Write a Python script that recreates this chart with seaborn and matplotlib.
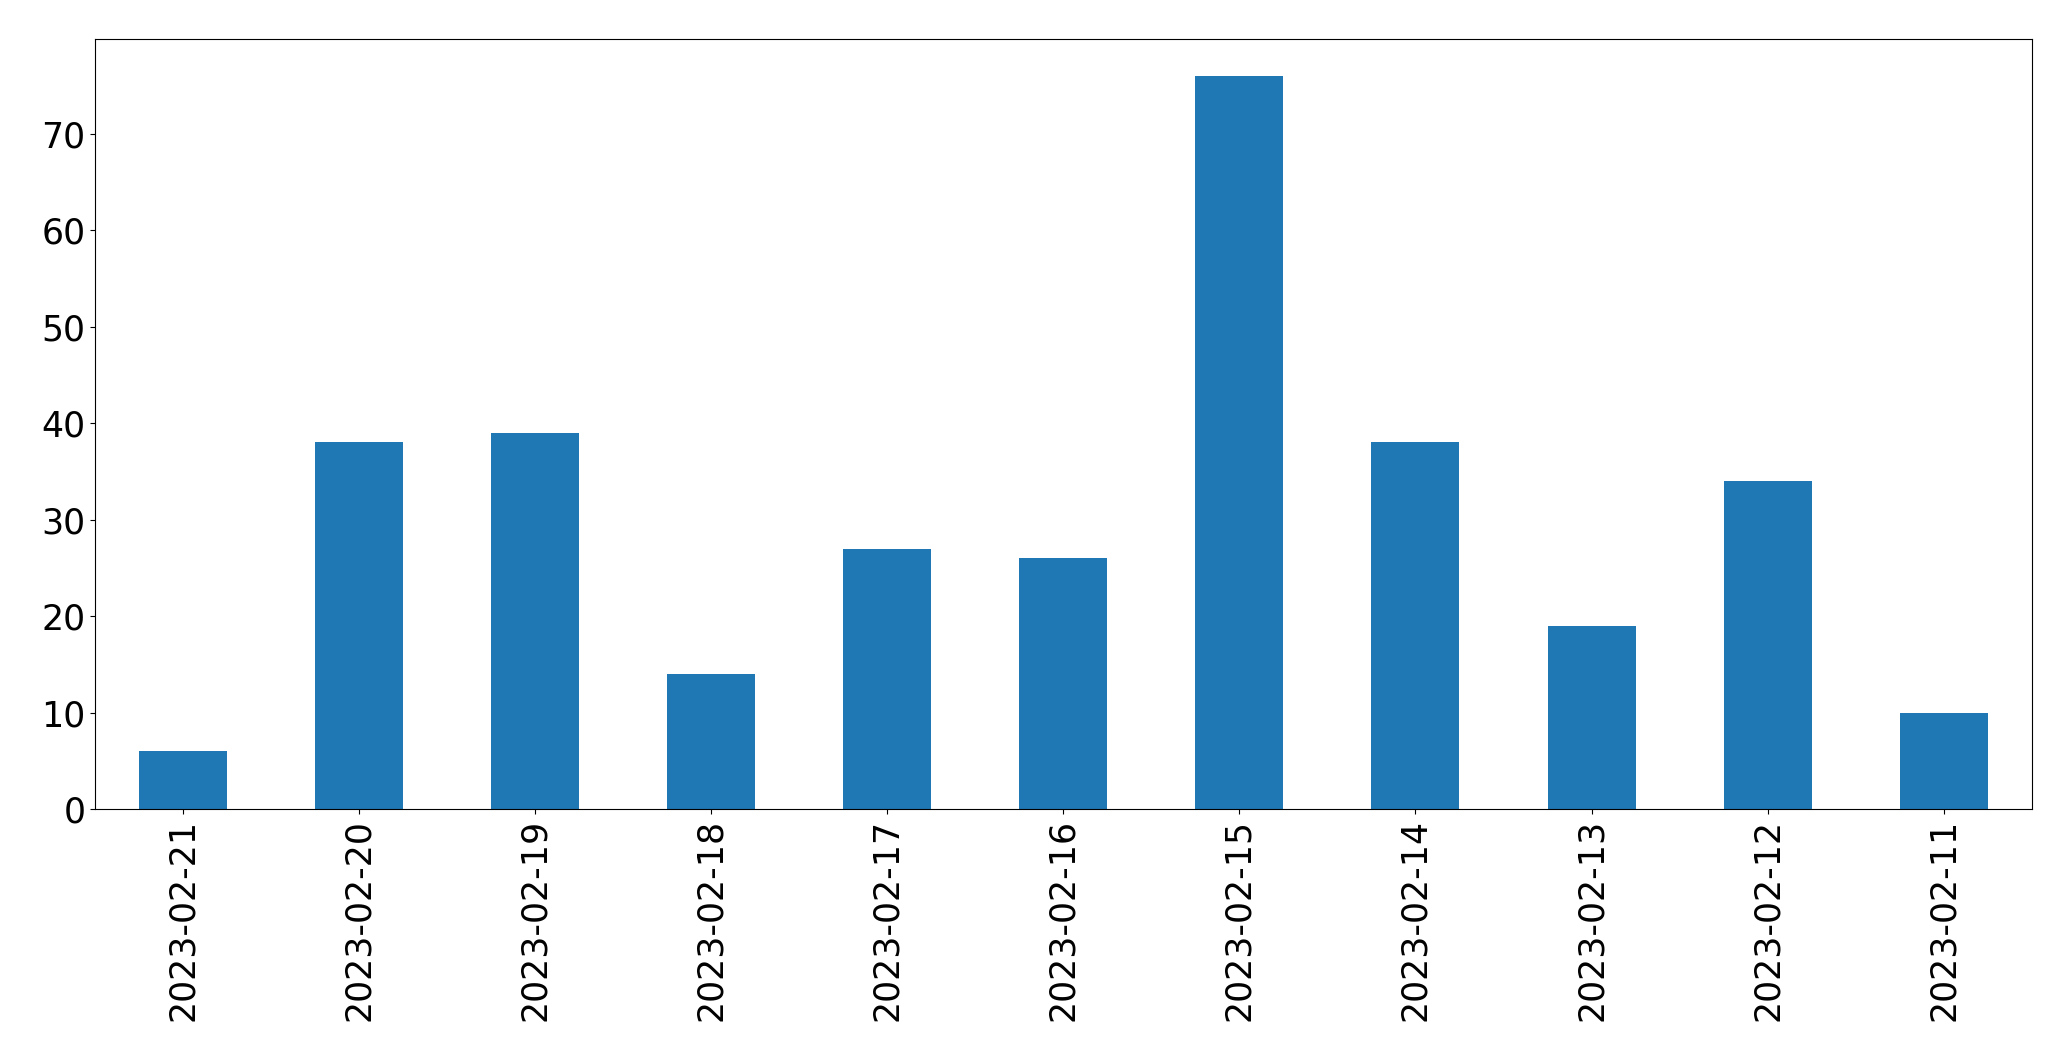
import pandas as pd
import matplotlib
matplotlib.use('Agg')
import matplotlib.pyplot as plt
import seaborn as sns

dates = ['2023-02-21', '2023-02-20', '2023-02-19', '2023-02-18', '2023-02-17',
         '2023-02-16', '2023-02-15', '2023-02-14', '2023-02-13', '2023-02-12',
         '2023-02-11']
counts = [6, 38, 39, 14, 27, 26, 76, 38, 19, 34, 10]

df = pd.DataFrame({'date': dates, 'count': counts})

fig, ax = plt.subplots(figsize=(20.71, 10.61), dpi=100)
sns.barplot(data=df, x='date', y='count', order=dates, color='#1f77b4',
            saturation=1, width=0.5, ax=ax)
ax.set_xlim(-0.5, len(dates) - 0.5)
ax.set_ylim(0, max(counts) * 1.05)
ax.set_xlabel('')
ax.set_ylabel('')
ax.tick_params(axis='both', labelsize=25)
plt.xticks(rotation=90)
plt.subplots_adjust(left=0.0459, right=0.981, top=0.963, bottom=0.2375)
plt.savefig('out.png', dpi=100)
